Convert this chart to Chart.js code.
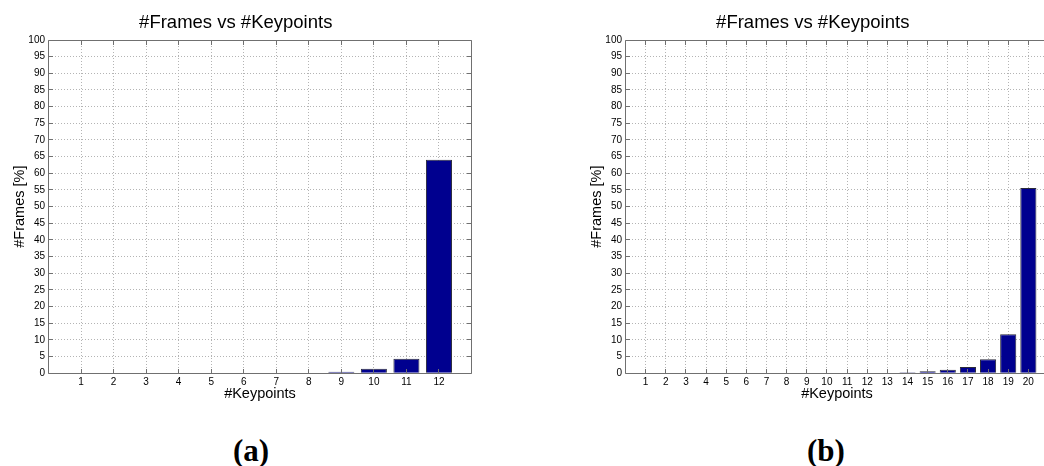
<!DOCTYPE html>
<html>
<head>
<meta charset="utf-8">
<script src="https://cdn.jsdelivr.net/npm/chart.js@4/dist/chart.umd.min.js"></script>
<style>
  html, body { margin: 0; padding: 0; background: #fff; }
  body { width: 1044px; height: 466px; overflow: hidden; position: relative; }
  canvas { position: absolute; top: 0; }
  .cap {
    position: absolute; top: 435px; width: 100px; text-align: center;
    font: bold 31px "Liberation Serif", serif; line-height: 31px; color: #000;
  }
</style>
</head>
<body>
<canvas id="chartA" width="516" height="410" style="left:0px"></canvas>
<canvas id="chartB" width="516" height="410" style="left:577px"></canvas>
<div class="cap" style="left:201px">(a)</div>
<div class="cap" style="left:776px">(b)</div>
<script>
// Panel (a): 12 keypoints
const keypointsA = [1, 2, 3, 4, 5, 6, 7, 8, 9, 10, 11, 12];
const framesA    = [0, 0, 0, 0, 0, 0, 0, 0.2, 0.5, 1.4, 4.4, 64.1];

// Panel (b): 20 keypoints
const keypointsB = [1, 2, 3, 4, 5, 6, 7, 8, 9, 10, 11, 12, 13, 14, 15, 16, 17, 18, 19, 20];
const framesB    = [0, 0, 0, 0, 0, 0, 0, 0, 0, 0, 0, 0, 0.2, 0.3, 0.6, 1.1, 1.9, 4.2, 11.7, 55.6];

// Percentage axis ticks
const percentTicks = [0, 5, 10, 15, 20, 25, 30, 35, 40, 45, 50, 55, 60, 65, 70, 75, 80, 85, 90, 95, 100];

const titleText = '#Frames vs #Keypoints';
const xTitleText = '#Keypoints';
const yTitleText = '#Frames [%]';

const FONT = '"Liberation Sans", Arial, Helvetica, sans-serif';

// Boxed axes with inward tick marks on all four sides
const boxFrame = {
  id: 'boxFrame',
  afterDraw(chart) {
    const { ctx, chartArea: a, scales: { x, y } } = chart;
    const snap = v => Math.round(v - 0.5) + 0.5;
    const L = snap(a.left), R = snap(a.right), T = snap(a.top), B = snap(a.bottom);
    const len = 4.5;
    ctx.save();
    ctx.strokeStyle = '#707070';
    ctx.lineWidth = 1;
    ctx.beginPath();
    ctx.rect(L, T, R - L, B - T);
    x.ticks.forEach(t => {
      const px = snap(x.getPixelForValue(t.value));
      ctx.moveTo(px, B); ctx.lineTo(px, B - len);
      ctx.moveTo(px, T); ctx.lineTo(px, T + len);
    });
    y.ticks.forEach(t => {
      const py = snap(y.getPixelForValue(t.value));
      ctx.moveTo(L, py); ctx.lineTo(L + len, py);
      ctx.moveTo(R, py); ctx.lineTo(R - len, py);
    });
    ctx.stroke();
    ctx.restore();
  }
};

function makeChart(id, keypoints, frames) {
  const xMax = keypoints[keypoints.length - 1] + 1;
  return new Chart(document.getElementById(id), {
    type: 'bar',
    data: {
      datasets: [{
        data: keypoints.map((k, i) => ({ x: k, y: frames[i] })),
        backgroundColor: '#00008f',
        borderColor: '#2a2a3a',
        borderWidth: 1,
        barPercentage: 0.8,
        categoryPercentage: 1.0
      }]
    },
    options: {
      responsive: false,
      animation: false,
      devicePixelRatio: 1,
      layout: { padding: { left: 0, right: 44.5, top: 0, bottom: 0 } },
      plugins: {
        legend: { display: false },
        tooltip: { enabled: false },
        title: {
          display: true,
          text: titleText,
          color: '#000',
          font: { family: FONT, size: 18.5, weight: 'normal', lineHeight: 1.2 },
          padding: { top: 12, bottom: 5.8 }
        }
      },
      scales: {
        x: {
          type: 'linear',
          min: 0,
          max: xMax,
          offset: false,
          afterBuildTicks: s => { s.ticks = keypoints.map(v => ({ value: v })); },
          afterFit: s => { s.height = 36.7; },
          ticks: {
            color: '#000',
            font: { family: FONT, size: 10 },
            padding: 3.4,
            maxRotation: 0,
            autoSkip: false,
            callback: v => String(v)
          },
          grid: { offset: false, drawTicks: false, color: '#b4b4b4', lineWidth: 1 },
          border: { display: false, dash: [1, 2] },
          title: {
            display: true,
            text: xTitleText,
            color: '#000',
            font: { family: FONT, size: 14.5, lineHeight: 1.2 },
            padding: { top: 0, bottom: 7.3 }
          }
        },
        y: {
          min: 0,
          max: 100,
          afterBuildTicks: s => { s.ticks = percentTicks.map(v => ({ value: v })); },
          afterFit: s => { s.width = 48.5; },
          ticks: {
            color: '#000',
            font: { family: FONT, size: 10 },
            padding: 3.5,
            autoSkip: false,
            callback: v => String(v)
          },
          grid: { drawTicks: false, color: '#b4b4b4', lineWidth: 1 },
          border: { display: false, dash: [1, 2] },
          title: {
            display: true,
            text: yTitleText,
            color: '#000',
            font: { family: FONT, size: 14.5, lineHeight: 1.2 },
            padding: { top: 11.5, bottom: 0 }
          }
        }
      }
    },
    plugins: [boxFrame]
  });
}

makeChart('chartA', keypointsA, framesA);
makeChart('chartB', keypointsB, framesB);
</script>
</body>
</html>
